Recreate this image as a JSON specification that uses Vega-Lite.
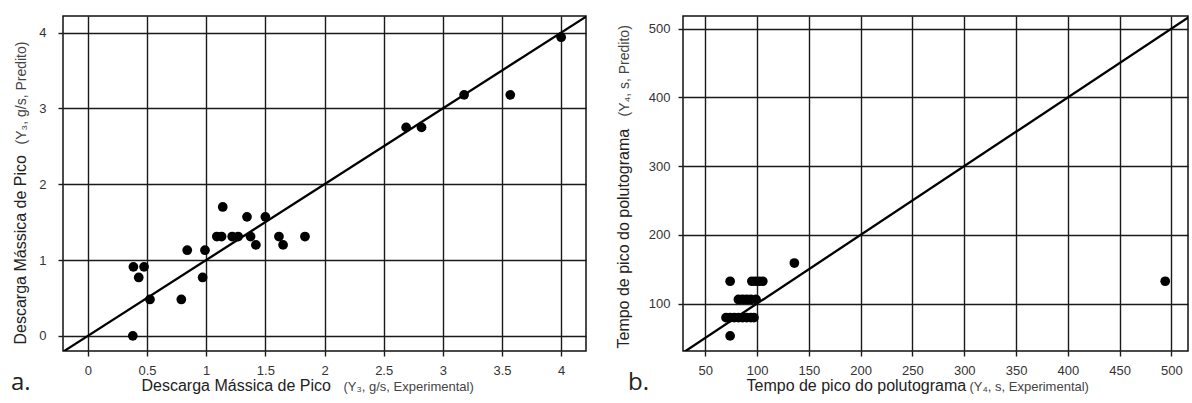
{
  "$schema": "https://vega.github.io/schema/vega-lite/v6.json",
  "padding": {"left": 10, "top": 15, "right": 0, "bottom": 0},
  "background": "white",
  "config": {
    "font": "Liberation Sans",
    "view": {"stroke": "#111", "strokeWidth": 1.5},
    "axis": {
      "labelFont": "Liberation Sans",
      "titleFont": "Liberation Sans",
      "labelFontSize": 13,
      "labelColor": "#333",
      "titleColor": "#222",
      "titleFontWeight": "normal",
      "gridColor": "#1a1a1a",
      "gridOpacity": 1,
      "gridWidth": 1.4,
      "tickColor": "#1a1a1a",
      "tickWidth": 1.4,
      "tickSize": 5,
      "domain": false
    },
    "title": {"font": "Open Sans", "fontWeight": "normal", "color": "#222"}
  },
  "datasets": {
    "massica": [
      {"exp": 0.38, "pred": 0.0},
      {"exp": 0.385, "pred": 0.91},
      {"exp": 0.475, "pred": 0.91},
      {"exp": 0.43, "pred": 0.77},
      {"exp": 0.525, "pred": 0.48},
      {"exp": 0.79, "pred": 0.48},
      {"exp": 0.84, "pred": 1.13},
      {"exp": 0.99, "pred": 1.13},
      {"exp": 0.97, "pred": 0.77},
      {"exp": 1.09, "pred": 1.31},
      {"exp": 1.13, "pred": 1.31},
      {"exp": 1.14, "pred": 1.7},
      {"exp": 1.22, "pred": 1.31},
      {"exp": 1.27, "pred": 1.31},
      {"exp": 1.345, "pred": 1.57},
      {"exp": 1.375, "pred": 1.31},
      {"exp": 1.42, "pred": 1.2},
      {"exp": 1.5, "pred": 1.57},
      {"exp": 1.615, "pred": 1.31},
      {"exp": 1.65, "pred": 1.2},
      {"exp": 1.835, "pred": 1.31},
      {"exp": 2.69, "pred": 2.75},
      {"exp": 2.82, "pred": 2.75},
      {"exp": 3.18, "pred": 3.18},
      {"exp": 3.57, "pred": 3.18},
      {"exp": 4.0, "pred": 3.94}
    ],
    "tempo": [
      {"exp": 74, "pred": 53},
      {"exp": 70, "pred": 79.5},
      {"exp": 74, "pred": 79.5},
      {"exp": 78, "pred": 79.5},
      {"exp": 82, "pred": 79.5},
      {"exp": 86, "pred": 79.5},
      {"exp": 90, "pred": 79.5},
      {"exp": 94, "pred": 79.5},
      {"exp": 97, "pred": 79.5},
      {"exp": 82, "pred": 106},
      {"exp": 86, "pred": 106},
      {"exp": 90, "pred": 106},
      {"exp": 94, "pred": 106},
      {"exp": 99, "pred": 106},
      {"exp": 74, "pred": 132.5},
      {"exp": 95, "pred": 132.5},
      {"exp": 98.5, "pred": 132.5},
      {"exp": 102, "pred": 132.5},
      {"exp": 105.5, "pred": 132.5},
      {"exp": 136, "pred": 159},
      {"exp": 494, "pred": 132.5}
    ],
    "linha_a": [{"v": -0.4}, {"v": 4.4}],
    "linha_b": [{"v": 20}, {"v": 530}]
  },
  "spacing": 27,
  "hconcat": [
    {
      "width": 523,
      "height": 335,
      "title": {"text": "a.", "orient": "bottom", "anchor": "start", "frame": "group", "fontSize": 24, "dx": -52, "dy": -26},
      "layer": [
        {
          "data": {"name": "massica"},
          "mark": {"type": "circle", "color": "black", "opacity": 1, "size": 95},
          "encoding": {
            "x": {"field": "exp", "type": "quantitative",
              "scale": {"domain": [-0.21, 4.21], "nice": false, "zero": false},
              "axis": {"values": [0, 0.5, 1, 1.5, 2, 2.5, 3, 3.5, 4], "format": "~g", "labelPadding": 8,
                "title": "Descarga Mássica de Pico", "titleFontSize": 16, "titleX": 78, "titleY": 39, "titleAlign": "left", "titleBaseline": "alphabetic"}},
            "y": {"field": "pred", "type": "quantitative",
              "scale": {"domain": [-0.2, 4.22], "nice": false, "zero": false},
              "axis": {"values": [0, 1, 2, 3, 4], "format": "~g", "labelPadding": 12,
                "title": "Descarga Mássica de Pico", "titleFontSize": 16, "titleX": -38, "titleY": 328, "titleAlign": "left", "titleBaseline": "alphabetic", "titleAngle": 270}}
          }
        },
        {
          "data": {"name": "linha_a"},
          "mark": {"type": "line", "color": "black", "strokeWidth": 2.3, "clip": true},
          "encoding": {
            "x": {"field": "v", "type": "quantitative",
              "scale": {"domain": [-0.21, 4.21], "nice": false, "zero": false},
              "axis": {"orient": "bottom", "labels": false, "ticks": false, "grid": false, "domain": false,
                "title": "(Y₃, g/s, Experimental)", "titleFontSize": 13, "titleColor": "#444", "titleX": 280, "titleY": 39, "titleAlign": "left", "titleBaseline": "alphabetic"}},
            "y": {"field": "v", "type": "quantitative",
              "scale": {"domain": [-0.2, 4.22], "nice": false, "zero": false},
              "axis": {"orient": "left", "labels": false, "ticks": false, "grid": false, "domain": false,
                "title": "(Y₃, g/s, Predito)", "titleFontSize": 14, "titleColor": "#444", "titleX": -38, "titleY": 128, "titleAlign": "left", "titleBaseline": "alphabetic", "titleAngle": 270}}
          }
        }
      ],
      "resolve": {"axis": {"x": "independent", "y": "independent"}}
    },
    {
      "width": 505,
      "height": 335,
      "title": {"text": "b.", "orient": "bottom", "anchor": "start", "frame": "group", "fontSize": 24, "dx": -55, "dy": -26},
      "layer": [
        {
          "data": {"name": "tempo"},
          "mark": {"type": "circle", "color": "black", "opacity": 1, "size": 95},
          "encoding": {
            "x": {"field": "exp", "type": "quantitative",
              "scale": {"domain": [28.5, 516], "nice": false, "zero": false},
              "axis": {"values": [50, 100, 150, 200, 250, 300, 350, 400, 450, 500], "labelPadding": 8,
                "title": "Tempo de pico do polutograma", "titleFontSize": 16, "titleX": 63, "titleY": 39, "titleAlign": "left", "titleBaseline": "alphabetic"}},
            "y": {"field": "pred", "type": "quantitative",
              "scale": {"domain": [31, 518.5], "nice": false, "zero": false},
              "axis": {"values": [100, 200, 300, 400, 500], "labelPadding": 8,
                "title": "Tempo de pico do polutograma", "titleFontSize": 16, "titleX": -55, "titleY": 332, "titleAlign": "left", "titleBaseline": "alphabetic", "titleAngle": 270}}
          }
        },
        {
          "data": {"name": "linha_b"},
          "mark": {"type": "line", "color": "black", "strokeWidth": 2.3, "clip": true},
          "encoding": {
            "x": {"field": "v", "type": "quantitative",
              "scale": {"domain": [28.5, 516], "nice": false, "zero": false},
              "axis": {"orient": "bottom", "labels": false, "ticks": false, "grid": false, "domain": false,
                "title": "(Y₄, s, Experimental)", "titleFontSize": 13, "titleColor": "#444", "titleX": 286, "titleY": 39, "titleAlign": "left", "titleBaseline": "alphabetic"}},
            "y": {"field": "v", "type": "quantitative",
              "scale": {"domain": [31, 518.5], "nice": false, "zero": false},
              "axis": {"orient": "left", "labels": false, "ticks": false, "grid": false, "domain": false,
                "title": "(Y₄, s, Predito)", "titleFontSize": 14, "titleColor": "#444", "titleX": -55, "titleY": 100, "titleAlign": "left", "titleBaseline": "alphabetic", "titleAngle": 270}}
          }
        }
      ],
      "resolve": {"axis": {"x": "independent", "y": "independent"}}
    }
  ]
}
